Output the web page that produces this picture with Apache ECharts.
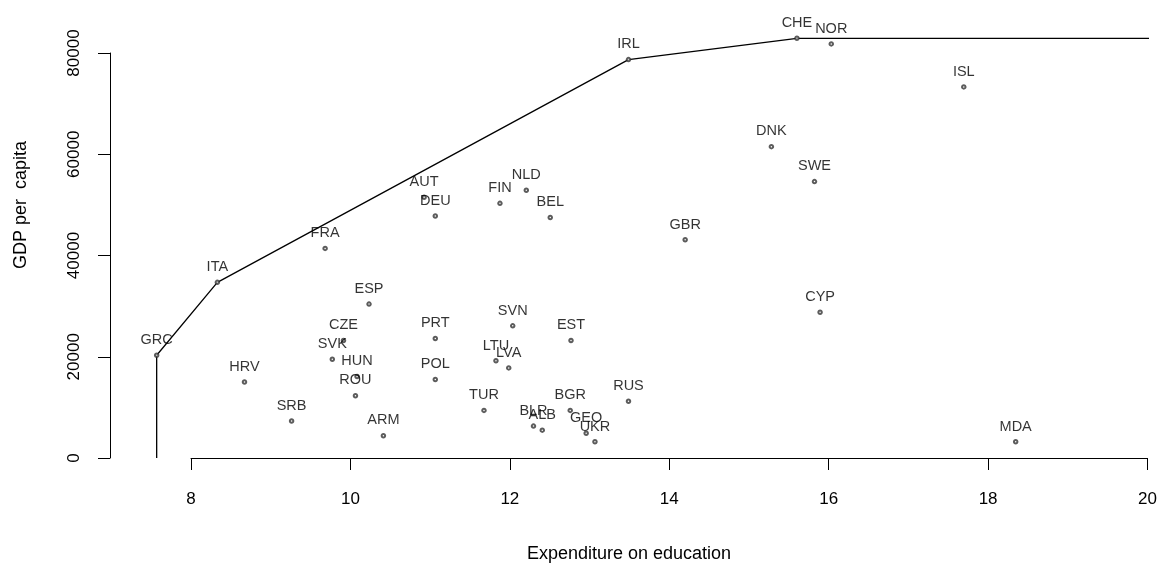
<!DOCTYPE html>
<html>
<head>
<meta charset="utf-8">
<script src="https://cdn.jsdelivr.net/npm/echarts@6/dist/echarts.min.js"></script>
<style>
  html, body { margin: 0; padding: 0; background: #fff; }
  #chart { width: 1160px; height: 563px; }
</style>
</head>
<body>
<div id="chart"></div>
<script>
// ---- data ----
const countries = ['GRC','ITA','FRA','AUT','DEU','FIN','NLD','BEL','IRL','CHE','NOR','ISL','DNK','SWE','GBR','CYP','MDA',
                   'ESP','CZE','SVK','HUN','ROU','HRV','SRB','ARM','PRT','POL','SVN','LTU','LVA','EST','TUR','BLR','ALB','BGR','GEO','UKR','RUS'];
const eduSpend  = [7.57, 8.33, 9.68, 10.92, 11.06, 11.87, 12.20, 12.50, 13.48, 15.59, 16.02, 17.68, 15.27, 15.81, 14.19, 15.88, 18.33,
                   10.23, 9.91, 9.77, 10.08, 10.06, 8.67, 9.26, 10.41, 11.06, 11.06, 12.03, 11.82, 11.98, 12.76, 11.67, 12.29, 12.40, 12.75, 12.95, 13.06, 13.48];
const gdp       = [20300, 34700, 41400, 51500, 47800, 50300, 52900, 47500, 78700, 82900, 81800, 73300, 61500, 54600, 43100, 28800, 3200,
                   30400, 23200, 19500, 16100, 12300, 15000, 7300, 4400, 23600, 15500, 26100, 19200, 17800, 23200, 9400, 6300, 5500, 9400, 4900, 3200, 11200];
const frontierCountries = ['GRC','ITA','IRL','CHE'];
const xTicks = { min: 8, max: 20, step: 2 };
const yTicks = { min: 0, max: 80000, step: 20000 };

// ---- build series data ----
const pts = countries.map((c, i) => ({ name: c, value: [eduSpend[i], gdp[i]] }));
const fr = frontierCountries.map(c => { const i = countries.indexOf(c); return [eduSpend[i], gdp[i]]; });
const frontier = [[fr[0][0], yTicks.min]].concat(fr).concat([[xTicks.max, fr[fr.length - 1][1]]]);

// ---- layout: the data grid extends left of the drawn x axis (R style detached axes) ----
const AXIS_LEFT = 191, RIGHT = 11, TOP = 53, BOTTOM = 105, DATA_LEFT = 140;
const pxPerUnit = (1160 - RIGHT - AXIS_LEFT) / (xTicks.max - xTicks.min);
const dataMin = xTicks.min - (AXIS_LEFT - DATA_LEFT) / pxPerUnit;

const FONT = "'Liberation Sans', Arial, Helvetica, sans-serif";
const chart = echarts.init(document.getElementById('chart'), null, { renderer: 'canvas' });
chart.setOption({
  animation: false,
  backgroundColor: '#ffffff',
  grid: [
    { left: DATA_LEFT, right: RIGHT, top: TOP, bottom: BOTTOM, containLabel: false },
    { left: AXIS_LEFT, right: RIGHT, top: TOP, bottom: BOTTOM, containLabel: false }
  ],
  xAxis: [
    { gridIndex: 0, type: 'value', min: dataMin, max: xTicks.max, show: false },
    {
      gridIndex: 1, type: 'value', min: xTicks.min, max: xTicks.max, interval: xTicks.step,
      splitLine: { show: false },
      axisLine: { show: true, onZero: false, lineStyle: { color: '#000', width: 1 } },
      axisTick: { show: true, length: 12, lineStyle: { color: '#000', width: 1 } },
      axisLabel: { color: '#000', fontFamily: FONT, fontSize: 17, margin: 33 }
    }
  ],
  yAxis: [
    {
      gridIndex: 0, type: 'value', min: yTicks.min, max: yTicks.max, interval: yTicks.step,
      offset: DATA_LEFT - 110,
      splitLine: { show: false },
      axisLine: { show: true, onZero: false, lineStyle: { color: '#000', width: 1 } },
      axisTick: { show: true, length: 12, lineStyle: { color: '#000', width: 1 } },
      axisLabel: { color: '#000', fontFamily: FONT, fontSize: 17, rotate: 90, margin: 27,
                   formatter: v => String(v) }
    },
    { gridIndex: 1, type: 'value', min: yTicks.min, max: yTicks.max, show: false }
  ],
  graphic: [
    { type: 'text', x: 629, y: 554, style: { text: 'Expenditure on education', font: '18px ' + FONT, fill: '#000', align: 'center', verticalAlign: 'middle' } },
    { type: 'text', x: 21, y: 205, rotation: Math.PI / 2, style: { text: 'GDP per  capita', font: '18px ' + FONT, fill: '#000', align: 'center', verticalAlign: 'middle' } }
  ],
  series: [
    {
      type: 'line', xAxisIndex: 0, yAxisIndex: 0, data: frontier, showSymbol: false, clip: false, silent: true,
      lineStyle: { color: '#000', width: 1.3 }, z: 2
    },
    {
      type: 'scatter', xAxisIndex: 0, yAxisIndex: 0, data: pts, clip: false, silent: true,
      symbol: 'emptyCircle', symbolSize: 3.5,
      itemStyle: { color: '#333', borderWidth: 0.9 },
      label: { show: true, position: 'top', distance: 5, formatter: '{b}', color: '#000', fontFamily: FONT, fontSize: 14.5 },
      z: 3
    }
  ]
});
</script>
</body>
</html>
